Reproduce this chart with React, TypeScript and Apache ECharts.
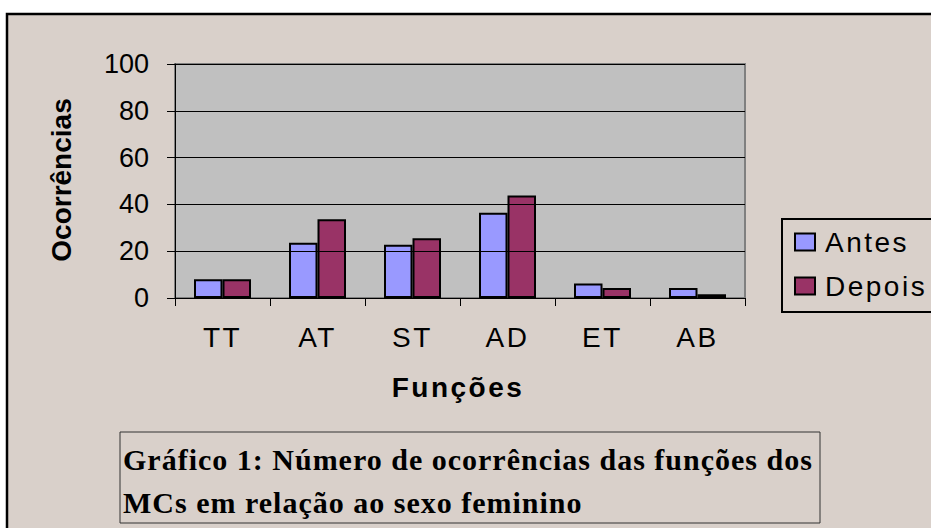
import React, { useEffect, useRef } from "react";
import * as echarts from "echarts";

const categories = ["TT", "AT", "ST", "AD", "ET", "AB"];
const antes = [8, 23.6, 22.8, 36.4, 6.2, 4.3];
const depois = [8, 33.7, 25.5, 43.8, 4.3, 1.6];
const yTicks = { min: 0, max: 100, interval: 20 };
const seriesNames = ["Antes", "Depois"];
const yName = "Ocorrências";
const xName = "Funções";
const titleLines = [
  "Gráfico 1: Número de ocorrências das funções dos",
  "MCs em relação ao sexo feminino",
];

const SPACED = "Arial, Liberation Sans";
const PLAIN = "Liberation Sans";
const SERIF = "Liberation Serif";

export default function App() {
  const ref = useRef<HTMLDivElement>(null);
  useEffect(() => {
    if (!ref.current) return;
    const chart = echarts.init(ref.current, null, { renderer: "svg" });
    chart.setOption({
      animation: false,
      backgroundColor: "#ffffff",
      grid: {
        left: 175,
        top: 64,
        right: 186,
        bottom: 230,
        show: true,
        backgroundColor: "#C0C0C0",
        borderColor: "#808080",
        borderWidth: 2,
        z: 1,
      },
      legend: {
        data: seriesNames,
        orient: "vertical",
        left: 794,
        top: 228,
        padding: 0,
        itemWidth: 20,
        itemHeight: 17,
        itemGap: 16,
        icon: "rect",
        itemStyle: { borderColor: "#000", borderWidth: 2 },
        textStyle: {
          fontSize: 28,
          fontFamily: SPACED,
          color: "#000",
          padding: [0, 0, 0, 5],
        },
      },
      xAxis: {
        type: "category",
        data: categories,
        boundaryGap: true,
        axisLine: { lineStyle: { color: "#000", width: 1 } },
        axisTick: { show: true, length: 8, lineStyle: { color: "#000" } },
        axisLabel: {
          fontSize: 28,
          fontFamily: SPACED,
          color: "#000",
          margin: 25,
        },
        z: 5,
      },
      yAxis: {
        type: "value",
        min: yTicks.min,
        max: yTicks.max,
        interval: yTicks.interval,
        axisLine: { show: true, lineStyle: { color: "#000", width: 1 } },
        axisTick: { show: true, length: 8, lineStyle: { color: "#000" } },
        axisLabel: {
          fontSize: 27,
          fontFamily: PLAIN,
          color: "#000",
          margin: 26,
        },
        splitLine: { show: true, lineStyle: { color: "#000", width: 1 } },
        z: 5,
      },
      series: [
        {
          name: seriesNames[0],
          type: "bar",
          data: antes,
          barGap: "0%",
          barCategoryGap: "40%",
          itemStyle: { color: "#9999FF", borderColor: "#000", borderWidth: 2 },
        },
        {
          name: seriesNames[1],
          type: "bar",
          data: depois,
          barGap: "0%",
          barCategoryGap: "40%",
          itemStyle: { color: "#993366", borderColor: "#000", borderWidth: 2 },
        },
      ],
      graphic: [
        {
          type: "rect",
          z: -100,
          silent: true,
          shape: { x: 7, y: 14, width: 940, height: 530 },
          style: { fill: "#D9D0CA", stroke: "#000", lineWidth: 2.5 },
        },
        {
          type: "rect",
          z: 10,
          silent: true,
          shape: { x: 782, y: 219, width: 200, height: 93 },
          style: { fill: "none", stroke: "#000", lineWidth: 2 },
        },
        {
          type: "text",
          z: 10,
          x: 61,
          y: 180,
          rotation: Math.PI / 2,
          style: {
            text: yName,
            fontSize: 28,
            fontWeight: "bold",
            fontFamily: PLAIN,
            fill: "#000",
            align: "center",
            verticalAlign: "middle",
          },
        },
        {
          type: "text",
          z: 10,
          x: 458,
          y: 387,
          style: {
            text: xName,
            fontSize: 28,
            fontWeight: "bold",
            fontFamily: SPACED,
            fill: "#000",
            align: "center",
            verticalAlign: "middle",
          },
        },
        {
          type: "rect",
          z: 10,
          silent: true,
          shape: { x: 120, y: 432, width: 700, height: 91 },
          style: { fill: "none", stroke: "#333", lineWidth: 1 },
        },
        {
          type: "text",
          z: 10,
          x: 123,
          y: 459,
          style: {
            text: titleLines[0],
            fontSize: 30,
            fontWeight: "bold",
            fontFamily: SERIF,
            fill: "#000",
            align: "left",
            verticalAlign: "middle",
          },
        },
        {
          type: "text",
          z: 10,
          x: 123,
          y: 502,
          style: {
            text: titleLines[1],
            fontSize: 30,
            fontWeight: "bold",
            fontFamily: SERIF,
            fill: "#000",
            align: "left",
            verticalAlign: "middle",
          },
        },
      ],
    });
    return () => chart.dispose();
  }, []);
  return (
    <>
      <style>{`
        #chart text[style*="Arial"], #chart text[font-family*="Arial"] { letter-spacing: 2.5px; }
        #chart text[style*="Serif"], #chart text[font-family*="Serif"] { letter-spacing: 1px; }
      `}</style>
      <div
        id="chart"
        ref={ref}
        style={{ position: "absolute", left: 0, top: 0, width: 931, height: 528 }}
      />
    </>
  );
}
